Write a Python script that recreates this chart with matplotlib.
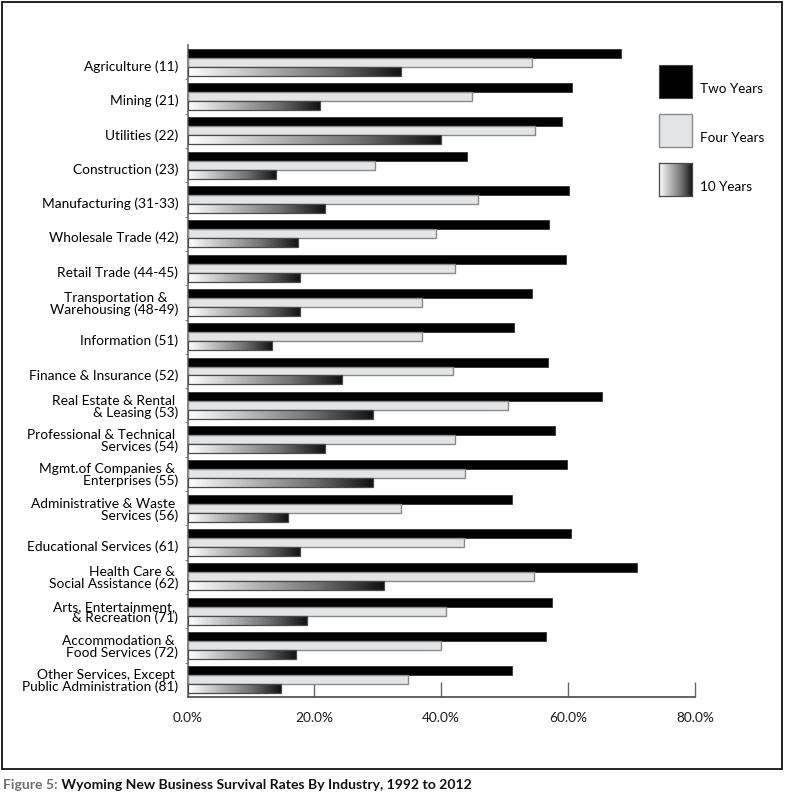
import numpy as np
import matplotlib
matplotlib.use('Agg')
import matplotlib.pyplot as plt
from matplotlib.colors import LinearSegmentedColormap
from matplotlib.patches import Rectangle
from matplotlib.transforms import blended_transform_factory

# ---------------- data ----------------
industries = [
    "Agriculture (11)",
    "Mining (21)",
    "Utilities (22)",
    "Construction (23)",
    "Manufacturing (31-33)",
    "Wholesale Trade (42)",
    "Retail Trade (44-45)",
    "Transportation &   \nWarehousing (48-49)",
    "Information (51)",
    "Finance & Insurance (52)",
    "Real Estate & Rental \n& Leasing (53)",
    "Professional & Technical \nServices (54)",
    "Mgmt.of Companies & \nEnterprises (55)",
    "Administrative & Waste \nServices (56)",
    "Educational Services (61)",
    "Health Care & \nSocial Assistance (62)",
    "Arts, Entertainment, \n& Recreation (71)",
    "Accommodation & \nFood Services (72)",
    "Other Services, Except \nPublic Administration (81)",
]
two_years = [68.3, 60.6, 59.0, 44.0, 60.1, 57.0, 59.6, 54.3, 51.5, 56.9,
             65.3, 57.9, 59.9, 51.1, 60.5, 70.8, 57.4, 56.5, 51.2]
four_years = [54.3, 44.8, 54.7, 29.6, 45.8, 39.1, 42.1, 37.0, 37.0, 41.8,
              50.6, 42.1, 43.7, 33.7, 43.6, 54.6, 40.8, 40.0, 34.7]
ten_years = [33.7, 20.9, 40.0, 14.0, 21.7, 17.4, 17.8, 17.8, 13.3, 24.4,
             29.3, 21.7, 29.3, 15.9, 17.8, 30.9, 18.9, 17.1, 14.8]
xticks = [0, 20, 40, 60, 80]
xtick_labels = ["0.0%", "20.0%", "40.0%", "60.0%", "80.0%"]
series_names = ["Two Years", "Four Years", "10 Years"]
caption_prefix = "Figure 5:"
caption_text = " Wyoming New Business Survival Rates By Industry, 1992 to 2012"

# ---------------- styling ----------------
FONT = ["Lato", "DejaVu Sans"]
plt.rcParams['font.family'] = FONT
W, H = 788, 805
fig = plt.figure(figsize=(W / 100, H / 100), dpi=100)


def px_rect(x0, y0, x1, y1):
    return [x0 / W, 1 - y1 / H, (x1 - x0) / W, (y1 - y0) / H]


ax = fig.add_axes(px_rect(187.5, 45, 695, 697))

grad_cmap = LinearSegmentedColormap.from_list(
    "grad", ["#ffffff", "#b8b8b8", "#717171", "#101010"])
gradient = np.linspace(0, 1, 256).reshape(1, -1)

h = 0.262
n = len(industries)
ypos = np.arange(n)

ax.barh(ypos - h, two_years, height=h, color="#000000",
        edgecolor="#333333", linewidth=0.6, zorder=3)
ax.barh(ypos, four_years, height=h, color="#e3e4e5",
        edgecolor="#8a8a8a", linewidth=1.0, zorder=3)
ten_bars = ax.barh(ypos + h, ten_years, height=h, color="none",
                   edgecolor="#4a4a4a", linewidth=0.9, zorder=4)
for rect, y, v in zip(ten_bars.patches, ypos + h, ten_years):
    im = ax.imshow(gradient, extent=[0, v, y + h / 2, y - h / 2],
                   aspect="auto", cmap=grad_cmap, zorder=3,
                   interpolation="bilinear")
    im.set_clip_path(rect)

ax.set_xlim(0, 80)
ax.set_ylim(n - 0.5, -0.5)

for s in ["top", "right"]:
    ax.spines[s].set_visible(False)
ax.spines["left"].set_color("#6a6a6a")
ax.spines["left"].set_linewidth(1.2)
ax.spines["bottom"].set_color("#555555")
ax.spines["bottom"].set_linewidth(1.3)

ax.set_xticks(xticks)
ax.set_xticklabels(xtick_labels)
ax.tick_params(axis="x", direction="in", length=11, width=1.0,
               color="#666666", pad=10.5, labelsize=9.8, labelcolor="#1a1a1a")
ax.set_yticks(ypos[:-1] + 0.5, minor=True)
ax.set_yticks([])
ax.tick_params(axis="y", which="minor", direction="out", length=2.5,
               width=0.8, color="#888888")

# category labels
trans = blended_transform_factory(ax.transAxes, ax.transData)
for i, lab in enumerate(industries):
    off = 0.04 if "\n" in lab else 0.13
    ax.text(-0.018, i + off, lab, transform=trans, ha="right", va="center",
            multialignment="right", fontsize=9.9, color="#000000",
            linespacing=0.93)

# legend (drawn manually in figure pixels)
leg_boxes = [(659, 65, 692, 98), (659, 114, 692, 147), (659, 163, 692, 196)]
fig.add_artist(Rectangle((leg_boxes[0][0] / W, 1 - leg_boxes[0][3] / H),
                         33 / W, 33 / H, transform=fig.transFigure,
                         facecolor="#000000", edgecolor="#444444", lw=0.8))
fig.add_artist(Rectangle((leg_boxes[1][0] / W, 1 - leg_boxes[1][3] / H),
                         33 / W, 33 / H, transform=fig.transFigure,
                         facecolor="#e3e4e5", edgecolor="#8a8a8a", lw=1.0))
lax = fig.add_axes(px_rect(*leg_boxes[2]))
lax.imshow(gradient, aspect="auto", cmap=grad_cmap, interpolation="bilinear")
lax.set_xticks([])
lax.set_yticks([])
for s in lax.spines.values():
    s.set_color("#4a4a4a")
    s.set_linewidth(0.9)
for (x0, y0, x1, y1), name in zip(leg_boxes, series_names):
    fig.text((x1 + 8) / W, 1 - (y1 - 9) / H, name, ha="left", va="center",
             fontsize=9.7, color="#000000")

# outer frame
fig.add_artist(Rectangle((1.5 / W, 1 - 769 / H), 780 / W, 767 / H,
                         transform=fig.transFigure, facecolor="none",
                         edgecolor="#111111", lw=1.3))

# caption
t1 = fig.text(3 / W, 1 - 785 / H, caption_prefix, ha="left", va="center",
              fontsize=10.1, fontweight="bold", color="#6d6e71")
fig.canvas.draw()
bb = t1.get_window_extent(renderer=fig.canvas.get_renderer())
fig.text(bb.x1 / W, 1 - 785 / H, caption_text, ha="left", va="center",
         fontsize=10.1, fontweight="bold", color="#111111")

fig.savefig("out.png", dpi=100)
